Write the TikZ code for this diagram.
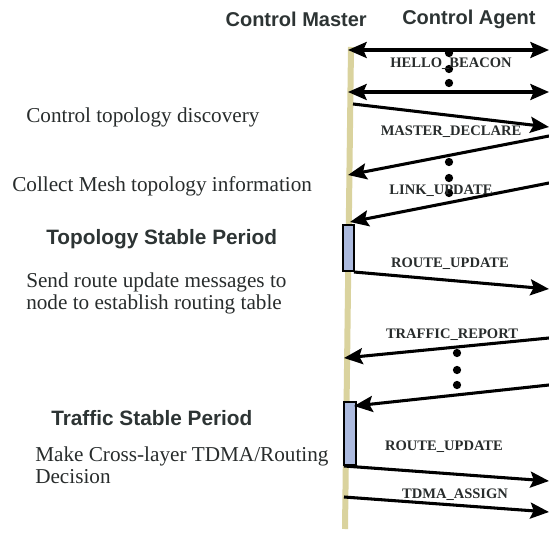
\documentclass[tikz,border=0pt]{standalone}
\usepackage{fontspec}
\setmainfont{Liberation Serif}
\setsansfont{Liberation Sans}
\usepackage{tikz}
\usetikzlibrary{arrows.meta}

\definecolor{lifeTan}{RGB}{218,211,158}
\definecolor{periodBlue}{RGB}{172,186,222}
\definecolor{headGray}{RGB}{45,52,52}
\definecolor{textGray}{RGB}{40,44,44}

\begin{document}
\begin{tikzpicture}[x=0.75pt,y=0.75pt,yscale=-1,xscale=1,
  msg/.style={line width=2.3pt,-{Stealth[length=14pt,width=12pt,inset=2.5pt]}},
  bimsg/.style={line width=2.3pt,{Stealth[length=14pt,width=12pt,inset=2.5pt]}-{Stealth[length=14pt,width=12pt,inset=2.5pt]}},
  lbl/.style={inner sep=0pt,text=textGray,font=\bfseries\fontsize{10.9}{12}\selectfont},
  note/.style={inner sep=0pt,anchor=west,align=left,text=textGray,font=\fontsize{15.9}{16.5}\selectfont},
  period/.style={inner sep=0pt,anchor=west,text=headGray,font=\sffamily\bfseries\fontsize{15.6}{17}\selectfont},
  head/.style={inner sep=0pt,text=headGray,font=\sffamily\bfseries\fontsize{15}{17}\selectfont},
  dot/.style={fill=black,radius=3.1pt}]
%set diagram size to 549 x 545
\useasboundingbox (0,0) rectangle (549,545);

%Lifeline of the master
\draw [color=lifeTan,line width=4.5pt] (351,47) -- (345,529) ;

%Period boxes
\draw [fill=periodBlue,line width=1.2pt] (343,225) rectangle (354,271) ;
\draw [fill=periodBlue,line width=1.2pt] (344,402) rectangle (356,465) ;

% Headers
\node [head,anchor=east] (master) at (367,19) {Control Master};
\node [head,anchor=west] (agent) at (402,19) {Control Agent};

% Message end points
\coordinate (hb1M) at (348,50);  \coordinate (hb1A) at (549,50);
\coordinate (hb2M) at (348,92);  \coordinate (hb2A) at (549,92);
\coordinate (mdM) at (353,104);  \coordinate (mdA) at (549,127);
\coordinate (lu1A) at (549,136); \coordinate (lu1M) at (348,175);
\coordinate (lu2A) at (549,183); \coordinate (lu2M) at (350,222);
\coordinate (ru1M) at (354,272); \coordinate (ru1A) at (549,289);
\coordinate (tr1A) at (549,338); \coordinate (tr1M) at (344,358);
\coordinate (tr2A) at (549,385); \coordinate (tr2M) at (354,406);
\coordinate (ru2M) at (344,466); \coordinate (ru2A) at (549,481);
\coordinate (tdM) at (344,497);  \coordinate (tdA) at (549,512);

%Messages
\draw [bimsg] (hb1M) -- (hb1A) ;
\draw [bimsg] (hb2M) -- (hb2A) ;
\draw [msg] (mdM) -- (mdA) ;
\draw [msg] (lu1A) -- (lu1M) ;
\draw [msg] (lu2A) -- (lu2M) ;
\draw [msg] (ru1M) -- (ru1A) ;
\draw [msg] (tr1A) -- (tr1M) ;
\draw [msg] (tr2A) -- (tr2M) ;
\draw [msg] (ru2M) -- (ru2A) ;
\draw [msg] (tdM) -- (tdA) ;

%Dots
\foreach \y in {53,69,83} \fill [dot] (449,\y) circle ;
\foreach \y in {162,178,193} \fill [dot] (449,\y) circle ;
\foreach \y in {353,370,385} \fill [dot] (457,\y) circle ;

% Message labels
\node [lbl] (hbLbl) at (451,64) {HELLO\_BEACON};
\node [lbl] (mdLbl) at (451,132) {MASTER\_DECLARE};
\node [lbl] (luLbl) at (441,191) {LINK\_UPDATE};
\node [lbl] (ru1Lbl) at (450,264) {ROUTE\_UPDATE};
\node [lbl] (trLbl) at (452,335) {TRAFFIC\_REPORT};
\node [lbl] (ru2Lbl) at (444,447) {ROUTE\_UPDATE};
\node [lbl] (tdLbl) at (455,495) {TDMA\_ASSIGN};

% Text Node
\node [note] (discover) at (26,117) {Control topology discovery};
% Text Node
\node [note] (collect) at (12,186) {Collect Mesh topology information};
% Text Node
\node [period] (topoPeriod) at (46,239) {Topology Stable Period};
% Text Node
\node [note] (sendRoute) at (26,293) {Send route update messages to\\node to establish routing table};
% Text Node
\node [period] (trafPeriod) at (51,418) {Traffic Stable Period};
% Text Node
\node [note] (decide) at (35,465) {Make Cross-layer TDMA/Routing\\Decision};

\end{tikzpicture}
\end{document}
